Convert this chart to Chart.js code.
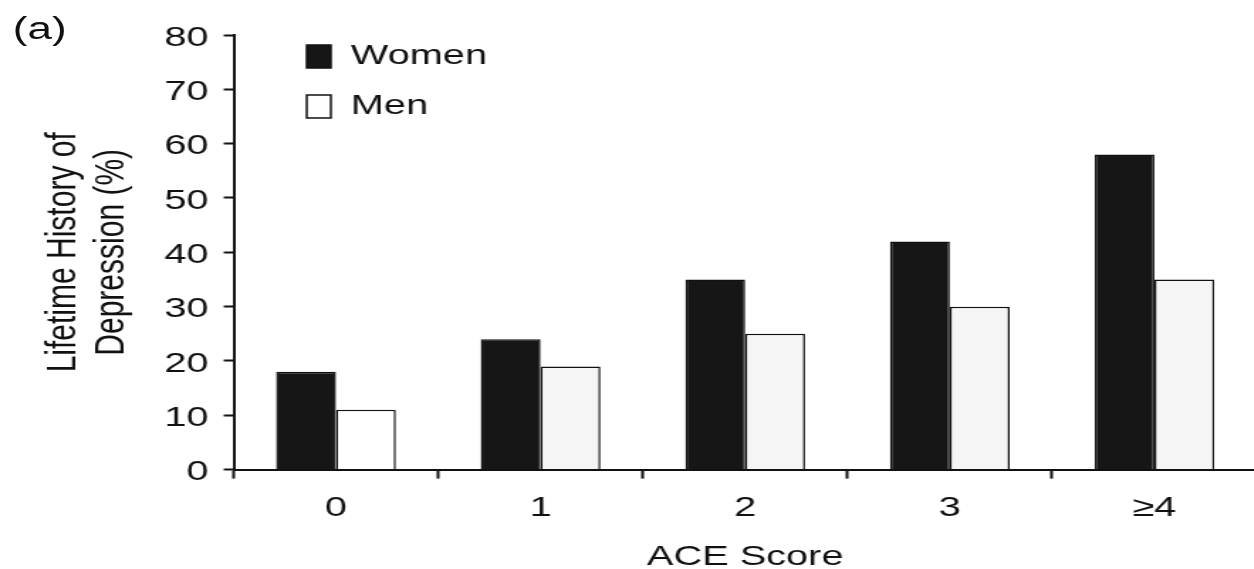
<!DOCTYPE html>
<html>
<head>
<meta charset="utf-8">
<script src="https://cdn.jsdelivr.net/npm/chart.js@4.4.1/dist/chart.umd.min.js"></script>
<style>
  html, body { margin: 0; padding: 0; background: #fff; overflow: hidden; width: 1254px; height: 569px; }
  #wrap { position: absolute; left: 0; top: 0; width: 886px; height: 569px; transform: scaleX(1.42); transform-origin: 0 0; }
  #panel { position: absolute; left: 9px; top: 13px; font: 31px 'Liberation Sans', Arial, sans-serif; line-height: 31px; color: #111; }
  canvas { position: absolute; left: 0; top: 0; }
</style>
</head>
<body>
<div id="wrap">
  <canvas id="c" width="886" height="569"></canvas>
  <div id="panel">(a)</div>
</div>
<script>
// ---- data ----
const categories = ['0', '1', '2', '3', '≥4'];
const women = [18, 24, 35, 42, 58];
const men = [11, 19, 25, 30, 35];
const yTickValues = [0, 10, 20, 30, 40, 50, 60, 70, 80];
const seriesNames = ['Women', 'Men'];
const xTitle = 'ACE Score';
const yTitle = ['Lifetime History of', 'Depression (%)'];

// ---- styles ----
const FONT = "'Liberation Sans', Arial, sans-serif";
const INK = '#111111';
const womenFill = '#161616';
const menFill = '#f5f5f5';
const menFirstFill = '#ffffff';

const legendPlace = {
  id: 'legendPlace',
  afterLayout(chart) {
    const lg = chart.legend;
    if (!lg) return;
    const w = lg.width, h = 200;
    lg.left = 194; lg.right = 194 + w;
    lg.top = 20.5; lg.bottom = 20.5 + h;
  }
};

new Chart(document.getElementById('c'), {
  type: 'bar',
  data: {
    labels: categories,
    datasets: [
      {
        label: seriesNames[0],
        data: women,
        backgroundColor: womenFill,
        borderColor: INK,
        borderWidth: 1.5,
        borderSkipped: 'bottom'
      },
      {
        label: seriesNames[1],
        data: men,
        backgroundColor: (ctx) => (ctx.type === 'data' && ctx.dataIndex === 0) ? menFirstFill : menFill,
        borderColor: INK,
        borderWidth: 1.5,
        borderSkipped: 'bottom'
      }
    ]
  },
  options: {
    responsive: false,
    animation: false,
    devicePixelRatio: 1,
    layout: { padding: { top: 35, right: 1, bottom: 0, left: 0 } },
    datasets: { bar: { categoryPercentage: 0.585, barPercentage: 1.0 } },
    plugins: {
      legend: {
        display: true,
        position: 'chartArea',
        align: 'start',
        labels: {
          boxWidth: 17,
          boxHeight: 23,
          padding: 22,
          color: INK,
          font: { family: FONT, size: 28 }
        }
      },
      tooltip: { enabled: false },
      title: { display: false }
    },
    scales: {
      x: {
        type: 'category',
        offset: true,
        grid: {
          offset: true,
          drawOnChartArea: false,
          drawTicks: true,
          tickLength: 9,
          tickWidth: 2,
          tickColor: INK
        },
        border: { display: true, color: INK, width: 2 },
        ticks: {
          color: INK,
          padding: 13,
          font: { family: FONT, size: 28, lineHeight: 1.2 },
          maxRotation: 0
        },
        title: {
          display: true,
          text: xTitle,
          color: INK,
          font: { family: FONT, size: 28, lineHeight: 0.85 },
          padding: { top: 7, bottom: 0 }
        }
      },
      y: {
        type: 'linear',
        min: 0,
        max: 80,
        afterBuildTicks: (s) => { s.ticks = yTickValues.map(v => ({ value: v })); },
        grid: {
          drawOnChartArea: false,
          drawTicks: true,
          tickLength: 7,
          tickWidth: 2,
          tickColor: INK
        },
        border: { display: true, color: INK, width: 2 },
        ticks: {
          color: INK,
          padding: 10.6,
          labelOffset: 3,
          font: { family: FONT, size: 28, lineHeight: 1.2 }
        },
        title: {
          display: true,
          text: yTitle,
          color: INK,
          font: { family: FONT, size: 30, lineHeight: 1.12 },
          padding: { top: 28, bottom: 10 }
        }
      }
    }
  },
  plugins: [legendPlace]
});
</script>
</body>
</html>
